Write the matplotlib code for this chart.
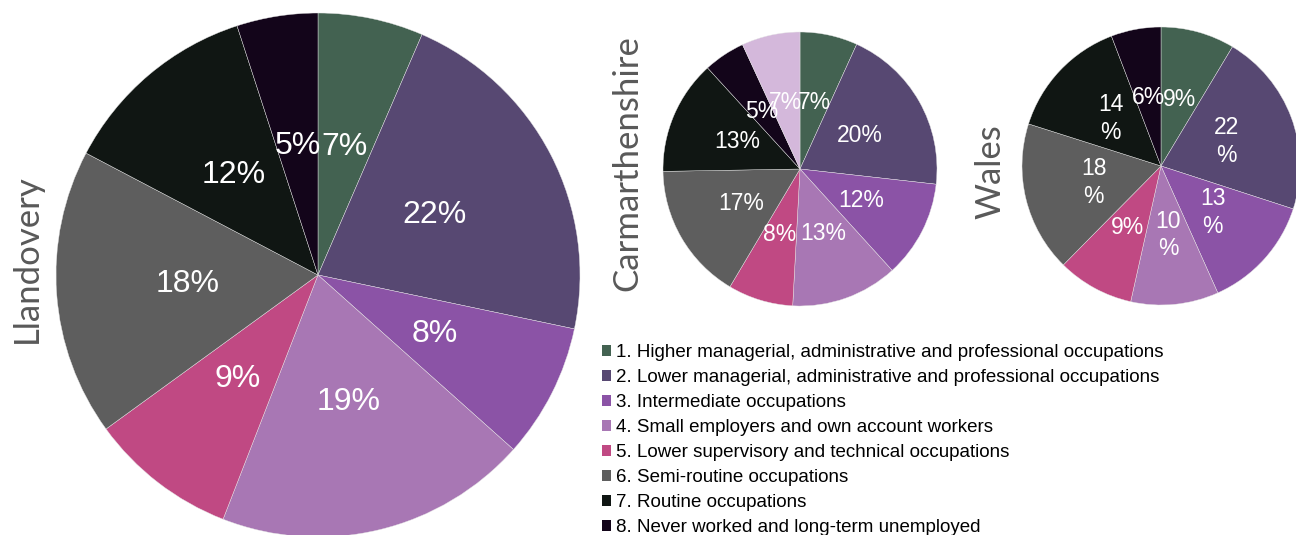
import matplotlib
matplotlib.use("Agg")
import matplotlib.pyplot as plt  # noqa: E402
from matplotlib.patches import Patch  # noqa: E402

W, H = 1296, 535

CATEGORIES = [
    "1. Higher managerial, administrative and professional occupations",
    "2. Lower managerial, administrative and professional occupations",
    "3. Intermediate occupations",
    "4. Small employers and own account workers",
    "5. Lower supervisory and technical occupations",
    "6. Semi-routine occupations",
    "7. Routine occupations",
    "8. Never worked and long-term unemployed",
]
COLORS = ["#436251", "#574872", "#8b53a6", "#a877b4", "#c04983",
          "#5e5e5e", "#101613", "#13051a", "#d4b8db"]

# shares (%); Carmarthenshire has an extra unlabelled slice
LLANDOVERY = [6.5, 21.8, 8.3, 19.3, 9.1, 17.7, 12.3, 5.0]
CARMARTHENSHIRE = [6.8, 20.0, 11.5, 12.6, 7.7, 16.2, 13.5, 4.9, 6.9]
CARM_LABELS = ["7%", "20%", "12%", "13%", "8%", "17%", "13%", "5%", "7%"]
WALES = [8.6, 21.4, 13.3, 10.2, 8.9, 17.5, 14.3, 5.8]
WALES_LABELS = ["9%", "22\n%", "13\n%", "10\n%", "9%", "18\n%", "14\n%", "6%"]
LLAN_LABELS = ["7%", "22%", "8%", "19%", "9%", "18%", "12%", "5%"]

fig = plt.figure(figsize=(W / 100, H / 100), dpi=100)


def pie_at(cx, cy, r, values, labels, fsize):
    ax = fig.add_axes([(cx - r) / W, (H - cy - r) / H, 2 * r / W, 2 * r / H])
    ax.pie(
        values, colors=COLORS[:len(values)], startangle=90, counterclock=False,
        labels=labels, labeldistance=0.5,
        wedgeprops=dict(edgecolor="#e6e6e6", linewidth=0.3),
        textprops=dict(color="white", fontsize=fsize, family="Liberation Sans",
                       ha="center", va="center", linespacing=1.25),
    )
    ax.set_xlim(-1, 1)
    ax.set_ylim(-1, 1)
    return ax


pie_at(318, 275, 262, LLANDOVERY, LLAN_LABELS, 23)
pie_at(800, 169, 137, CARMARTHENSHIRE, CARM_LABELS, 16.5)
pie_at(1161, 166, 139, WALES, WALES_LABELS, 16.5)

name_kw = dict(rotation=90, ha="center", va="center", color="#595959",
               family="Lato", fontsize=25)
fig.text(27 / W, 1 - 259 / H, "Llandovery", **name_kw)
fig.text(627 / W, 1 - 163 / H, "Carmarthenshire", **name_kw)
fig.text(990 / W, 1 - 172 / H, "Wales", **name_kw)

handles = [Patch(facecolor=c, edgecolor="none") for c in COLORS[:len(CATEGORIES)]]
fig.legend(handles, CATEGORIES, loc="upper left",
           bbox_to_anchor=(602 / W, 1 - 344 / H), frameon=False,
           prop=dict(family="Liberation Sans", size=13.5),
           handlelength=0.5, handleheight=0.5, handletextpad=0.25,
           labelspacing=0.43, borderaxespad=0, borderpad=0)

fig.savefig("out.png", dpi=100)
